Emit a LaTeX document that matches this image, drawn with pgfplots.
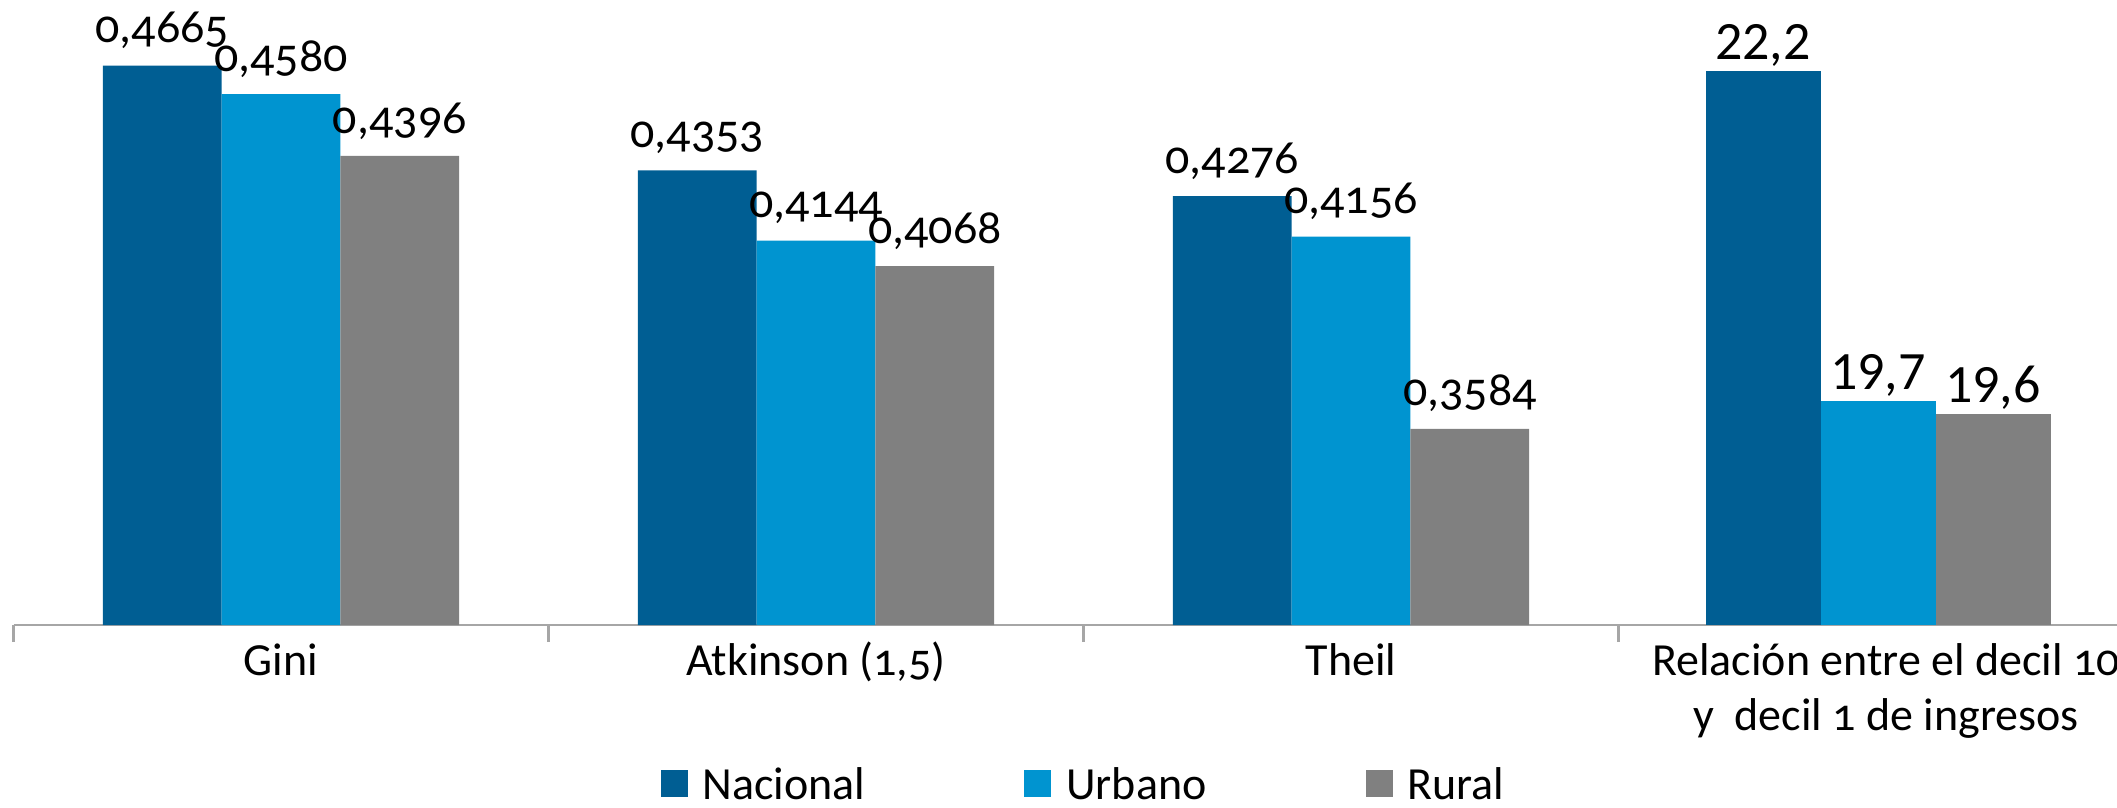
\documentclass[border=0pt]{standalone}
\usepackage{pgfplots}
\pgfplotsset{compat=1.18}
\usepackage{fontspec}
\setmainfont{Carlito}[Numbers=OldStyle]
\newfontfamily\lining{Carlito}[Numbers=Lining]
\definecolor{nac}{HTML}{005E93}
\definecolor{urb}{HTML}{0094D0}
\definecolor{rur}{HTML}{808080}
\definecolor{axgray}{HTML}{A6A6A6}
\begin{document}
\begin{tikzpicture}[font=\fontsize{11.5}{12.5}\selectfont]
\useasboundingbox (0,0) rectangle (529.25pt,201.75pt);
\begin{axis}[
  at={(3.375pt,45.5pt)}, anchor=south west,
  width=525.875pt, height=156.25pt, scale only axis,
  xmin=-0.5, xmax=3.4318, ymin=0.30, ymax=0.486,
  ybar=0pt, bar width=29.7pt,
  axis x line*=bottom, axis y line=none,
  x axis line style={axgray, line width=0.6pt, -},
  xtick={0,1,2,3},
  xticklabels={Gini,{Atkinson (1,5)},Theil,{{\def\arraystretch{1.1}\begin{tabular}[t]{@{}c@{}}Relación entre el decil 10\\y \ decil 1 de ingresos\end{tabular}}}},
  xticklabel style={anchor=base, yshift=-12.6pt},
  major tick length=0pt,
  minor xtick={-0.5,0.5,1.5,2.5},
  minor tick length=4.25pt,
  tick align=outside,
  minor tick style={axgray, line width=0.6pt},
  clip=false,
  point meta=y,
  nodes near coords={\fontsize{12}{13}\selectfont\pgfmathprintnumber[fixed,fixed zerofill,precision=4,use comma,assume math mode=true]{\pgfplotspointmeta}},
  every node near coord/.append style={inner sep=0pt, text depth=0pt, yshift=5.5pt},
  legend columns=3,
  legend style={at={(0.5082,-0.2810)}, anchor=south, draw=none, inner sep=0pt,
    nodes={inner xsep=0pt, inner ysep=0pt, text depth=0pt},
    /tikz/every odd column/.append style={column sep=3.75pt},
    /tikz/every even column/.append style={column sep=39.75pt}},
  legend image code/.code={\fill[#1] (0pt,-3.375pt) rectangle (6.75pt,3.375pt);},
]
\addplot[fill=nac, draw=none] coordinates {(0,0.4665) (1,0.4353) (2,0.4276)};
\addplot[fill=urb, draw=none] coordinates {(0,0.4580) (1,0.4144) (2,0.4156)};
\addplot[fill=rur, draw=none] coordinates {(0,0.4396) (1,0.4068) (2,0.3584)};
\legend{Nacional,Urbano,Rural}
\end{axis}
\begin{axis}[
  at={(3.375pt,45.5pt)}, anchor=south west,
  width=525.875pt, height=156.25pt, scale only axis,
  xmin=-0.5, xmax=3.4318, ymin=18, ymax=22.735,
  ybar=0pt, bar width=28.75pt,
  hide axis, clip=false,
  point meta=y,
  nodes near coords={\fontsize{13.5}{14}\selectfont\lining\pgfmathprintnumber[fixed,fixed zerofill,precision=1,use comma,assume math mode=true]{\pgfplotspointmeta}},
  every node near coord/.append style={inner sep=0pt, text depth=0pt, yshift=2.7pt},
]
\addplot[fill=nac, draw=none] coordinates {(2.985,22.2)};
\addplot[fill=urb, draw=none] coordinates {(2.985,19.7)};
\addplot[fill=rur, draw=none] coordinates {(2.985,19.6)};
\end{axis}
\end{tikzpicture}
\end{document}
